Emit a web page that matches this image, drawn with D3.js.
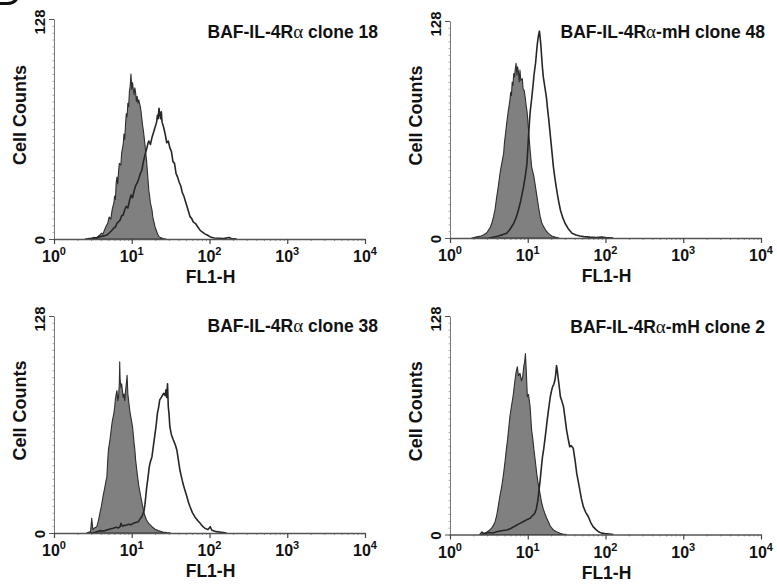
<!DOCTYPE html>
<html><head><meta charset="utf-8">
<script src="https://cdn.jsdelivr.net/npm/d3@7"></script>
<style>html,body{margin:0;padding:0;background:#fff}</style>
</head><body><svg id="c" width="777" height="585"></svg>
<script>
// ---------- DATA ----------
const panelTitles = ["BAF-IL-4Rα clone 18","BAF-IL-4Rα-mH clone 48","BAF-IL-4Rα clone 38","BAF-IL-4Rα-mH clone 2"];
const xTickValues = [1,10,100,1000,10000];
const xTickExponents = ["0","1","2","3","4"];
const yTickValues = [0,128];
const yTickLabels = ["0","128"];
const xAxisTitle = "FL1-H";
const yAxisTitle = "Cell Counts";

// each point: [log10(FL1-H), cell count]
const control18 = [[0.40,0],[0.45,0.4],[0.49,0.2],[0.52,1.0],[0.55,0.6],[0.57,1.6],[0.59,2.3],[0.61,3.4],[0.63,2.9],[0.65,5.2],[0.67,7.4],[0.69,9.0],[0.71,12.8],[0.73,11.6],[0.75,17.5],[0.77,21],[0.78,25],[0.79,23],[0.80,33],[0.81,36],[0.82,32],[0.83,39],[0.84,44],[0.86,43],[0.87,50],[0.89,55],[0.90,61],[0.91,58],[0.92,67],[0.93,73],[0.94,71],[0.95,79],[0.96,77],[0.97,86],[0.98,89],[0.99,96],[1.00,87],[1.01,91],[1.02,87],[1.03,84],[1.04,88],[1.05,85],[1.06,80],[1.07,83],[1.08,79],[1.09,81],[1.11,77],[1.12,74],[1.13,70],[1.14,66],[1.15,63],[1.16,59],[1.17,55],[1.18,50],[1.19,46],[1.20,40],[1.21,34],[1.22,28],[1.23,25],[1.24,21],[1.26,17],[1.27,13],[1.28,11],[1.30,7],[1.32,4.5],[1.33,3],[1.35,1.4],[1.37,0.8],[1.40,0.3],[1.44,0]];
const clone18 = [[0.45,0],[0.50,0.5],[0.55,0.8],[0.60,1.5],[0.64,1.8],[0.68,2.3],[0.71,3.5],[0.74,4.8],[0.77,6.4],[0.79,7.0],[0.81,9.2],[0.83,10],[0.85,11],[0.87,13.5],[0.89,14],[0.91,17],[0.93,19],[0.95,18],[0.97,22],[0.99,25.6],[1.01,24],[1.03,28],[1.05,31],[1.07,32.6],[1.09,35],[1.11,38],[1.13,40],[1.15,45],[1.17,49],[1.19,52],[1.21,56],[1.22,57],[1.24,55],[1.26,59],[1.28,62],[1.30,65],[1.32,68],[1.33,72],[1.34,70],[1.35,76],[1.36,73],[1.37,70],[1.38,74],[1.39,68],[1.41,65],[1.43,61],[1.45,56],[1.47,57],[1.49,53],[1.51,51],[1.53,45],[1.55,44],[1.57,38],[1.59,36],[1.61,33],[1.63,31],[1.65,27],[1.67,25],[1.69,22],[1.71,19],[1.73,16],[1.75,13],[1.77,12],[1.79,10],[1.82,9],[1.85,7],[1.88,5],[1.91,4],[1.94,3],[1.97,2.3],[2.01,1.2],[2.06,0.6],[2.12,0.4],[2.18,0.2],[2.25,0.9],[2.28,0.3],[2.35,0]];

const control48 = [[0.28,0],[0.32,0.4],[0.36,0.8],[0.40,1.2],[0.43,1.8],[0.46,2.6],[0.48,3.5],[0.50,5],[0.52,6.5],[0.54,9],[0.56,12.6],[0.58,17],[0.60,24],[0.62,30],[0.64,37],[0.65,40],[0.67,45],[0.69,50],[0.70,56],[0.72,64],[0.73,68],[0.75,75],[0.77,81],[0.78,86],[0.79,84],[0.80,92],[0.81,90],[0.82,97],[0.83,95],[0.84,100],[0.85,103],[0.86,96],[0.87,101],[0.88,98],[0.89,92],[0.90,99],[0.91,93],[0.93,94],[0.94,88],[0.955,87],[0.97,82],[0.98,78],[0.99,75],[1.00,70],[1.01,64],[1.02,58],[1.03,52],[1.04,47],[1.05,42],[1.07,38],[1.08,36],[1.10,30],[1.12,24],[1.14,18],[1.16,12.6],[1.18,9],[1.20,7],[1.23,4.7],[1.26,3],[1.29,1.8],[1.31,1.2],[1.35,0.6],[1.40,0]];
const clone48 = [[0.50,0],[0.56,0.5],[0.62,1.2],[0.68,2],[0.73,2.8],[0.77,5],[0.82,8.7],[0.85,12],[0.88,16.5],[0.91,22],[0.945,30],[0.97,37],[0.99,44],[1.00,52],[1.01,60],[1.02,67],[1.03,74],[1.05,82],[1.07,91],[1.08,96],[1.10,103],[1.11,108],[1.12,113],[1.13,117],[1.14,120],[1.15,122],[1.16,118],[1.17,113],[1.18,106],[1.19,100],[1.20,95],[1.22,89],[1.24,83],[1.255,76],[1.27,70],[1.285,63],[1.30,56],[1.315,49],[1.33,42],[1.35,35],[1.38,26],[1.40,21],[1.42,16.5],[1.45,12],[1.48,8.7],[1.52,5.5],[1.57,2.8],[1.62,1.8],[1.67,1.2],[1.72,0.8],[1.80,0.5],[1.88,0.3],[1.95,0.6],[2.00,0.2],[2.10,0]];

const control38 = [[0.42,0],[0.47,0.8],[0.485,8.7],[0.50,2],[0.52,3],[0.55,3.7],[0.57,7],[0.59,11.6],[0.61,16],[0.63,21.4],[0.65,26],[0.67,31],[0.68,33],[0.69,42],[0.70,49],[0.72,55],[0.74,62.7],[0.75,66],[0.77,70.6],[0.78,74],[0.79,79],[0.80,82],[0.81,84],[0.82,78],[0.83,80],[0.84,88],[0.845,101],[0.85,91],[0.86,86],[0.87,88],[0.88,84],[0.89,80],[0.90,82],[0.91,78],[0.92,84],[0.93,88],[0.94,93],[0.95,82],[0.96,78],[0.97,74],[0.98,70.6],[0.99,68],[1.01,62.7],[1.02,58],[1.03,53],[1.04,49],[1.05,43],[1.07,35],[1.09,28],[1.11,23],[1.13,18],[1.15,13.6],[1.17,10],[1.19,7.7],[1.22,5.5],[1.26,3.7],[1.30,2.2],[1.34,1.4],[1.40,0.6],[1.45,0.2],[1.50,0]];
const clone38 = [[0.48,0],[0.53,0.4],[0.59,1.4],[0.64,1.2],[0.68,1.8],[0.72,2.4],[0.76,2.8],[0.80,3.4],[0.83,3.0],[0.85,3.7],[0.86,5.7],[0.88,4.0],[0.91,4.5],[0.935,4.7],[0.96,5.2],[0.99,4.9],[1.02,5.7],[1.05,6.2],[1.085,6.7],[1.11,8.5],[1.13,9.6],[1.145,11.5],[1.16,13.6],[1.17,17],[1.18,21.4],[1.19,26],[1.205,31.3],[1.215,35],[1.225,39],[1.24,42],[1.26,45],[1.28,52],[1.30,58.8],[1.315,64],[1.33,70.6],[1.345,74],[1.36,78.5],[1.38,80],[1.41,82.4],[1.43,81],[1.44,84.4],[1.45,80],[1.46,88],[1.47,74.5],[1.48,70],[1.49,62.7],[1.51,58],[1.535,54.9],[1.56,52],[1.58,49],[1.60,43],[1.62,37],[1.64,33],[1.66,29],[1.685,25],[1.71,21.4],[1.73,18],[1.75,15.5],[1.78,12],[1.81,9.6],[1.845,7.5],[1.88,5.7],[1.91,4],[1.94,2.8],[1.98,2],[2.01,3.7],[2.03,1.6],[2.09,0.8],[2.15,0.4],[2.22,0]];

const control2 = [[0.38,0],[0.41,1.6],[0.44,0.6],[0.47,1.4],[0.51,2.6],[0.54,4],[0.56,5.5],[0.58,7.5],[0.60,11],[0.62,16.3],[0.64,22],[0.665,28],[0.69,36],[0.71,43.6],[0.725,50],[0.74,55.4],[0.755,62],[0.77,69],[0.79,75],[0.81,80.7],[0.825,86],[0.836,90.5],[0.85,95],[0.866,98.3],[0.88,93],[0.90,94.4],[0.92,90],[0.935,92.5],[0.95,99],[0.96,101],[0.97,106],[0.98,97],[0.995,80.7],[1.01,82],[1.03,74.9],[1.05,61],[1.065,56],[1.08,49.5],[1.10,42],[1.115,35.8],[1.13,31],[1.15,26],[1.165,22],[1.18,18.3],[1.20,15],[1.22,12.4],[1.24,10],[1.265,7.5],[1.29,5],[1.33,2.6],[1.37,1.6],[1.415,0.7],[1.45,0.3],[1.50,0]];
const clone2 = [[0.40,0],[0.45,0.6],[0.50,1.2],[0.55,0.9],[0.60,1.6],[0.66,2.2],[0.73,2.6],[0.78,3.5],[0.82,4.5],[0.86,5.6],[0.90,6.5],[0.94,7.5],[0.97,8.2],[1.00,9],[1.03,9.5],[1.06,11],[1.09,12.4],[1.11,15],[1.13,20],[1.145,26],[1.16,32],[1.175,39],[1.19,45.6],[1.205,50],[1.22,55.4],[1.235,61],[1.25,67],[1.27,74],[1.29,80.7],[1.305,84],[1.32,86.6],[1.335,88],[1.35,90.5],[1.36,94],[1.37,99],[1.38,96],[1.39,92],[1.40,88.6],[1.42,80.7],[1.44,78],[1.46,74.9],[1.48,68],[1.50,61],[1.52,56],[1.54,51.4],[1.56,52],[1.585,50.5],[1.61,43],[1.63,35.8],[1.65,31],[1.67,26],[1.69,21],[1.715,16.3],[1.745,13],[1.78,10.4],[1.81,7],[1.84,4.6],[1.875,3],[1.91,1.6],[1.95,0.8],[1.99,0.5],[2.05,0.3],[2.10,0]];

const controlSeries = [control18, control48, control38, control2];
const stainedSeries = [clone18, clone48, clone38, clone2];

// ---------- LAYOUT ----------
const layout = [
  {x0:54, x1:365, yTop:19, yBase:239, titleX:378, titleY:38},
  {x0:450, x1:761, yTop:21, yBase:238, titleX:765, titleY:38},
  {x0:54, x1:365, yTop:316, yBase:533, titleX:378, titleY:332},
  {x0:450, x1:761, yTop:316, yBase:534.5, titleX:765, titleY:333}
];
const FONT = "'Liberation Sans', Arial, Helvetica, sans-serif";

const svg = d3.select("#c");
svg.append("rect").attr("width",777).attr("height",585).attr("fill","#fff");

// fragment of a cut-off panel letter at the top-left corner (graphic only)
svg.append("path").attr("d","M0,3.5 L7,3.5 Q14,3.5 16.5,-1").attr("fill","none")
  .attr("stroke","#111").attr("stroke-width",3.2);

layout.forEach((L, i) => {
  const g = svg.append("g");
  const x = d3.scaleLog().domain([xTickValues[0], xTickValues[xTickValues.length-1]]).range([L.x0, L.x1]);
  const y = d3.scaleLinear().domain([yTickValues[0], yTickValues[1]]).range([L.yBase, L.yTop]);

  // y axis: minor ticks
  const minorY = d3.range(0, 129, 4);
  g.append("g").attr("transform",`translate(${L.x0},0)`)
    .call(d3.axisLeft(y).tickValues(minorY).tickSize(1.5).tickFormat(""))
    .call(a => a.select(".domain").remove())
    .call(a => a.selectAll("line").attr("stroke","#aaa"));
  // y axis main
  g.append("g").attr("transform",`translate(${L.x0},0)`)
    .call(d3.axisLeft(y).tickValues(yTickValues).tickSize(5).tickSizeOuter(0).tickFormat(""))
    .call(a => a.select(".domain").attr("stroke","#7a7a7a").attr("stroke-width",1))
    .call(a => a.selectAll("line").attr("stroke","#555"));

  // x axis minor ticks
  const minorX = [];
  for (let k = 0; k < 4; k++) for (let m = 2; m <= 9; m++) minorX.push(m * Math.pow(10, k));
  g.append("g").attr("transform",`translate(0,${L.yBase})`)
    .call(d3.axisBottom(x).tickValues(minorX).tickSize(2).tickFormat(""))
    .call(a => a.select(".domain").remove())
    .call(a => a.selectAll("line").attr("stroke","#999"));

  // histograms
  const ctrl = controlSeries[i], st = stainedSeries[i];
  const area = d3.area().x(d => x(Math.pow(10, d[0]))).y0(y(0)).y1(d => y(d[1]));
  const line = d3.line().x(d => x(Math.pow(10, d[0]))).y(d => y(d[1]));
  g.append("path").datum(ctrl).attr("d", area).attr("fill","#808080").attr("stroke","#2e2e2e")
    .attr("stroke-width",1.1).attr("stroke-linejoin","round");
  g.append("path").datum(st).attr("d", line).attr("fill","none").attr("stroke","#262626")
    .attr("stroke-width",1.6).attr("stroke-linejoin","round");

  // x axis main
  g.append("g").attr("transform",`translate(0,${L.yBase})`)
    .call(d3.axisBottom(x).tickValues(xTickValues).tickSize(5).tickSizeOuter(0).tickFormat(""))
    .call(a => a.select(".domain").attr("stroke","#555").attr("stroke-width",1.3))
    .call(a => a.selectAll("line").attr("stroke","#444").attr("stroke-width",1.2));

  // x tick labels 10^n
  xTickValues.forEach((v, j) => {
    const t = g.append("text").attr("x", x(v)).attr("y", L.yBase + 23)
      .attr("text-anchor","middle").attr("font-family",FONT).attr("font-weight","bold")
      .attr("font-size",16).attr("fill","#111");
    t.append("tspan").text("10");
    t.append("tspan").attr("dy",-7).attr("font-size",11).text(xTickExponents[j]);
  });
  // x axis title
  g.append("text").attr("x", x(xTickValues[2]) + 1).attr("y", L.yBase + 44)
    .attr("text-anchor","middle").attr("font-family",FONT).attr("font-weight","bold")
    .attr("font-size",17.5).attr("fill","#111").text(xAxisTitle);

  // y tick labels (rotated)
  yTickValues.forEach((v, j) => {
    g.append("text").attr("transform",`translate(${L.x0 - 9},${y(v) + (j ? 3 : 1)}) rotate(-90)`)
      .attr("text-anchor","middle").attr("font-family",FONT).attr("font-weight","bold")
      .attr("font-size",15).attr("fill","#111").text(yTickLabels[j]);
  });
  // y axis title
  g.append("text").attr("transform",`translate(${L.x0 - 28},${(L.yTop + L.yBase)/2 - 14}) rotate(-90)`)
    .attr("text-anchor","middle").attr("font-family",FONT).attr("font-weight","bold")
    .attr("font-size",18).attr("fill","#111").text(yAxisTitle);

  // panel title with alpha in symbol-like serif
  const parts = panelTitles[i].split("α");
  const tt = g.append("text").attr("x", L.titleX).attr("y", L.titleY).attr("text-anchor","end")
    .attr("font-family",FONT).attr("font-weight","bold").attr("font-size",17.5).attr("fill","#111");
  tt.append("tspan").text(parts[0]);
  tt.append("tspan").attr("font-family","'Liberation Serif','DejaVu Serif',serif").attr("font-weight","normal").attr("font-size",19).text("α");
  tt.append("tspan").text(parts[1]);
});
</script>
</body></html>
